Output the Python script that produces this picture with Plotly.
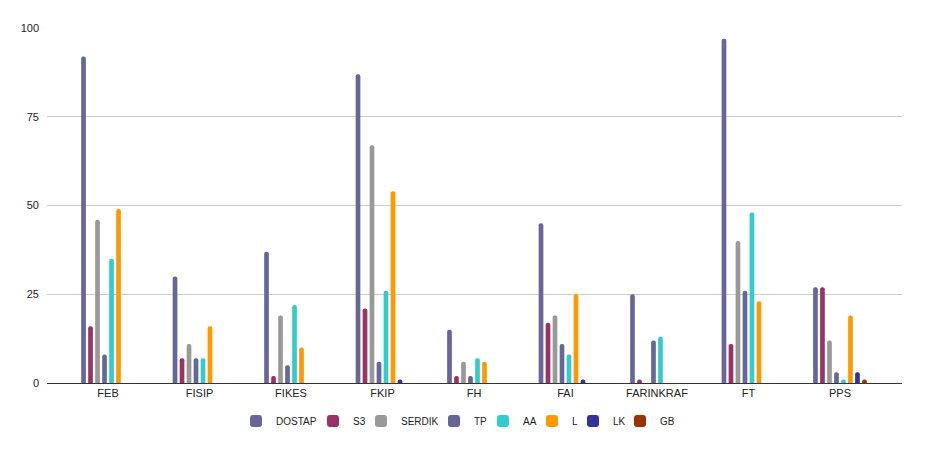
import plotly.graph_objects as go

categories = ["FEB", "FISIP", "FIKES", "FKIP", "FH", "FAI", "FARINKRAF", "FT", "PPS"]
DOSTAP = [92, 30, 37, 87, 15, 45, 25, 97, 27]
S3 = [16, 7, 2, 21, 2, 17, 1, 11, 27]
SERDIK = [46, 11, 19, 67, 6, 19, 0, 40, 12]
TP = [8, 7, 5, 6, 2, 11, 12, 26, 3]
AA = [35, 7, 22, 26, 7, 8, 13, 48, 1]
L = [49, 16, 10, 54, 6, 25, 0, 23, 19]
LK = [0, 0, 0, 1, 0, 1, 0, 0, 3]
GB = [0, 0, 0, 0, 0, 0, 0, 0, 1]

series = [
    ("DOSTAP", DOSTAP, "#666699"),
    ("S3", S3, "#993366"),
    ("SERDIK", SERDIK, "#999999"),
    ("TP", TP, "#666699"),
    ("AA", AA, "#33CCCC"),
    ("L", L, "#FF9900"),
    ("LK", LK, "#333399"),
    ("GB", GB, "#993300"),
]
# left pixel of each legend swatch in the reference (screen coordinates)
legend_px = [253, 330, 378, 451, 500, 549, 590, 637]

PAGE = 8  # default body margin of the page
font = "Liberation Sans"
fig = go.Figure()
layout_legends = {}
for i, (name, vals, color) in enumerate(series):
    key = "legend" if i == 0 else f"legend{i+1}"
    fig.add_trace(go.Bar(
        x=categories,
        y=[v if v != 0 else None for v in vals],
        name=name,
        marker=dict(color=color, line=dict(width=0)),
        legend=key,
    ))
    layout_legends[key] = dict(
        orientation="h",
        xref="container", yref="container",
        x=(legend_px[i] - PAGE - 17) / 925, xanchor="left",
        y=(451 - (421 - PAGE)) / 451, yanchor="middle",
        font=dict(family=font, size=10, color="#222222"),
        bgcolor="rgba(0,0,0,0)", borderwidth=0,
    )

fig.update_layout(
    width=925, height=451,
    margin=dict(l=47 - PAGE, r=23 + PAGE, t=28 - PAGE, b=68 + PAGE, autoexpand=False),
    paper_bgcolor="white", plot_bgcolor="white",
    barmode="group",
    bargap=0.388, bargroupgap=0.33,
    barcornerradius=3,
    font=dict(family=font, size=11, color="#222222"),
    showlegend=True,
    xaxis=dict(
        type="category",
        range=[-0.667, 8.678],
        showgrid=False,
        showline=True, linecolor="#333333", linewidth=1,
        ticks="", tickfont=dict(size=11),
        automargin=False,
        fixedrange=True,
    ),
    yaxis=dict(
        range=[0, 100],
        tickvals=[0, 25, 50, 75, 100],
        showgrid=True, gridcolor="#cccccc", gridwidth=1,
        zeroline=False,
        ticks="", ticklabelstandoff=7,
        tickfont=dict(size=11),
        automargin=False,
        fixedrange=True,
    ),
    **layout_legends,
)

fig.write_html("out.html")
